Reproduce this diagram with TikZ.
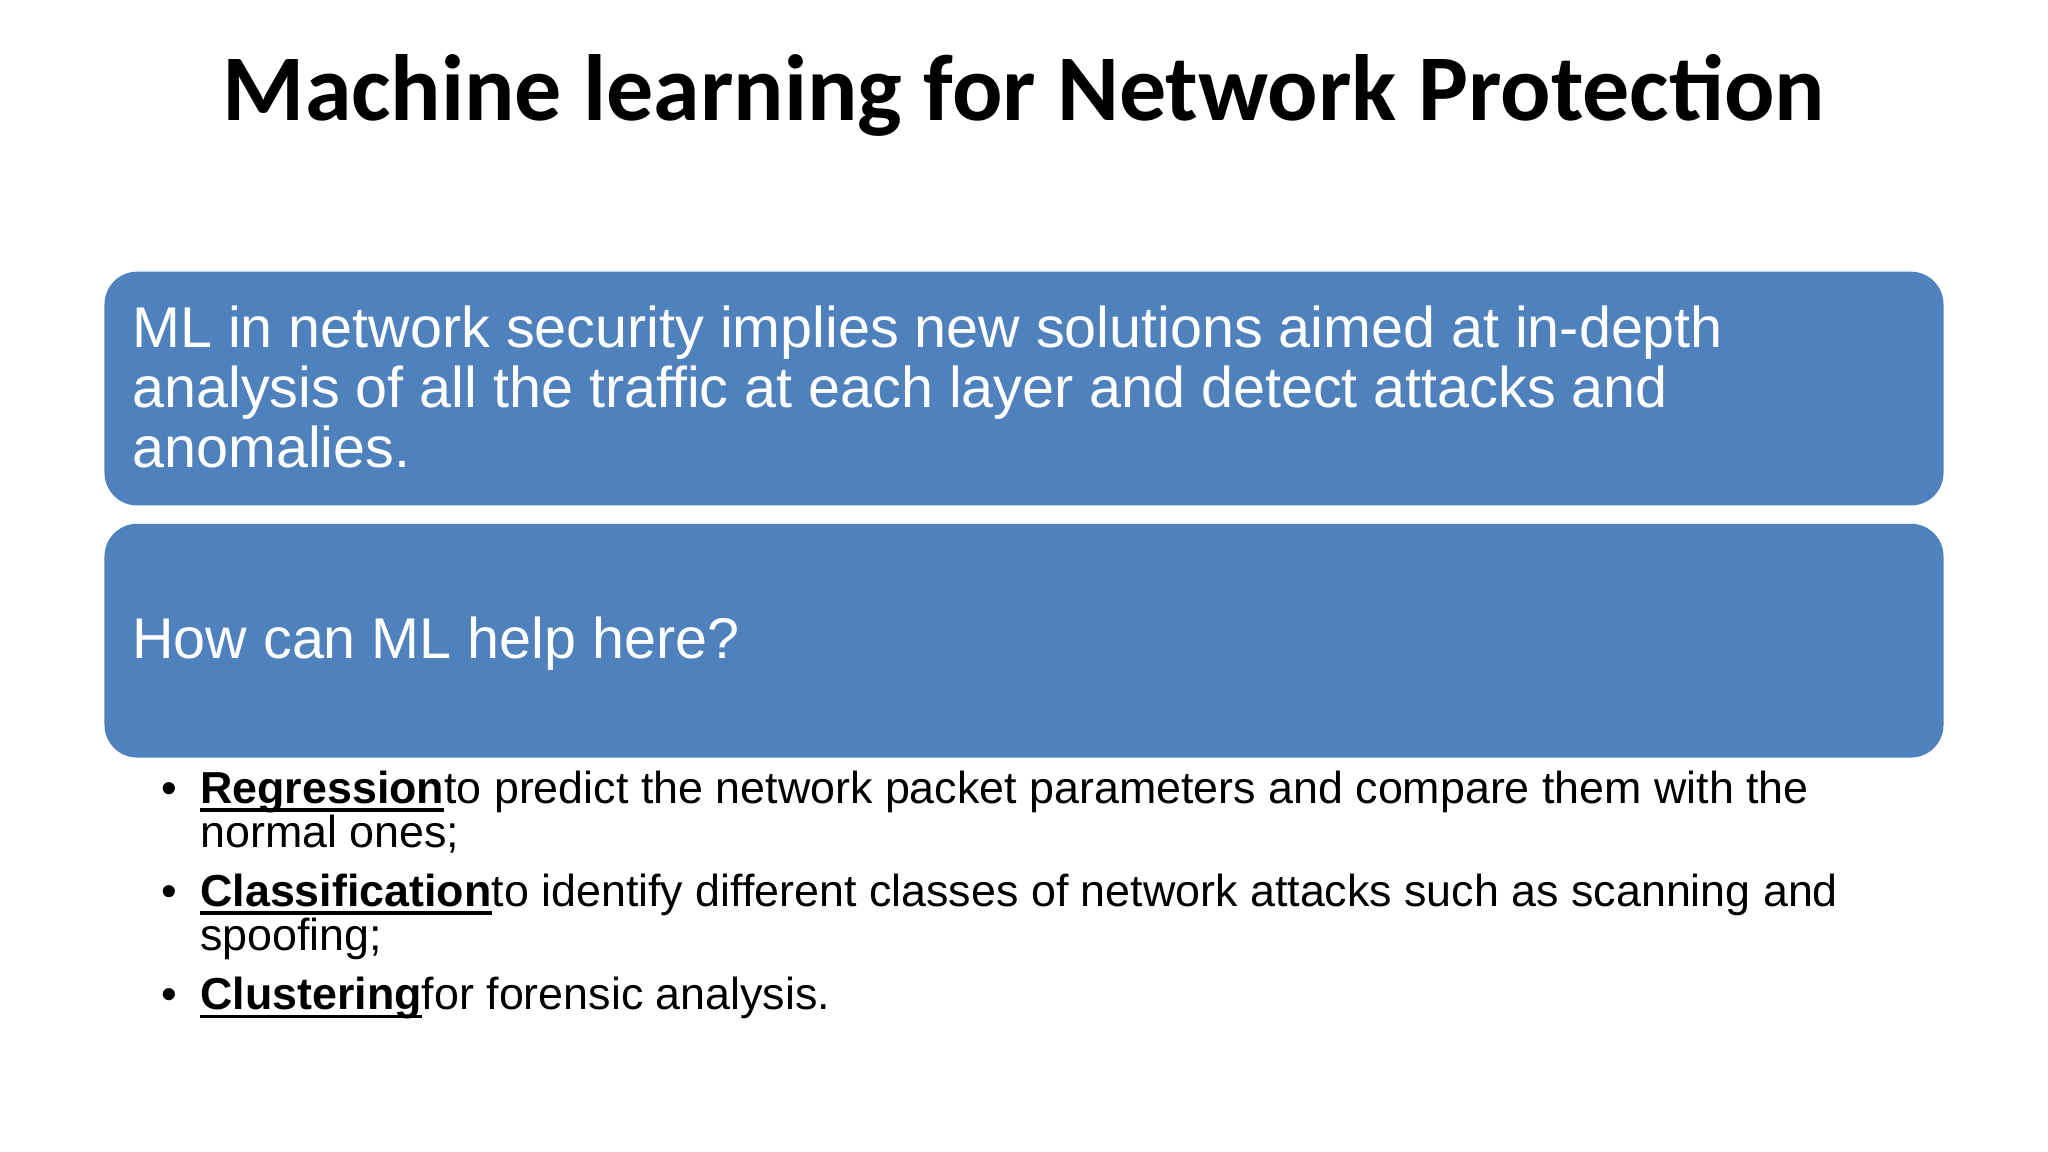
\documentclass[tikz,border=0pt]{standalone}
\usepackage{fontspec}
\setmainfont{Liberation Sans}
\newfontfamily\titlefont{Carlito}
\definecolor{boxblue}{HTML}{4F81BD}
\newcommand{\myul}[1]{\setbox0\hbox{\textbf{#1}}\rlap{\rule[-3.2pt]{\wd0}{1.3pt}}\box0}
\begin{document}
\begin{tikzpicture}[x=0.5pt,y=-0.5pt,
  blue box/.style={fill=boxblue,draw=none,rounded corners=12.5pt},
  boxtext/.style={anchor=base west,inner sep=0,text=white,font=\fontsize{22}{26}\selectfont},
  bultext/.style={anchor=base west,inner sep=0,text=black,font=\fontsize{17.15}{20}\selectfont}]
\useasboundingbox (0,0) rectangle (1568,882);
\node (title) at (784,92) [anchor=base,inner sep=0,font=\titlefont\bfseries\fontsize{36}{42}\selectfont] {Machine learning for Network Protection};
\fill[blue box] (80,208) rectangle (1488,387);
\fill[blue box] (80,401) rectangle (1488,580);
\node (l1) [boxtext] at (101,266) {ML in network security implies new solutions aimed at in-depth};
\node (l2) [boxtext] at (101,312) {analysis of all the traffic at each layer and detect attacks and};
\node (l3) [boxtext] at (101,358) {anomalies.};
\node (q) [boxtext] at (101,504) {How can ML help here?};
\node (b1) [bultext] at (123,615) {•};
\node (r1) [bultext] at (153,615) {\myul{Regression} to predict the network packet parameters and compare them with the};
\node (r2) [bultext] at (153,649) {normal ones;};
\node (b2) [bultext] at (123,694) {•};
\node (c1) [bultext] at (153,694) {\myul{Classification} to identify different classes of network attacks such as scanning and};
\node (c2) [bultext] at (153,728) {spoofing;};
\node (b3) [bultext] at (123,773) {•};
\node (k1) [bultext] at (153,773) {\myul{Clustering} for forensic analysis.};
\end{tikzpicture}
\end{document}
